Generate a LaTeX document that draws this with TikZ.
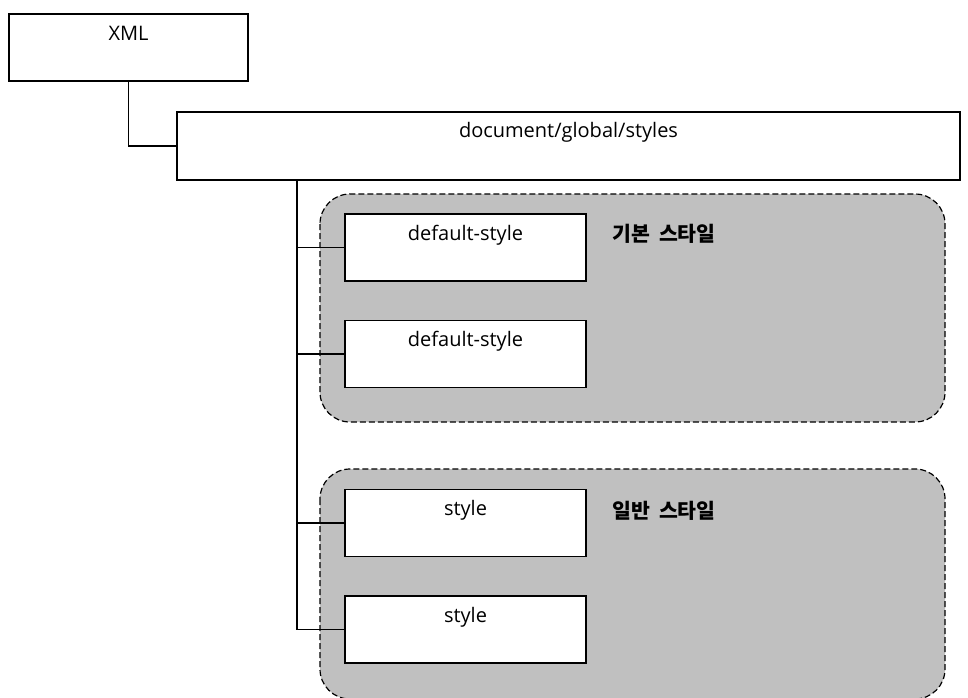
\documentclass[tikz,border=0pt]{standalone}
\usepackage{fontspec}
\setmainfont{Open Sans}
\newfontfamily\krfont{Noto Sans CJK KR}
\definecolor{groupfill}{HTML}{C0C0C0}
\begin{document}
\begin{tikzpicture}[x=1pt,y=-1pt,
  box/.style={draw=black, line width=1.4pt, fill=white, inner sep=0pt},
  txt/.style={anchor=base, inner sep=0pt, font=\fontsize{20}{24}\selectfont},
  grouplabel/.style={anchor=base, inner sep=0pt, font=\krfont\bfseries\fontsize{20.5}{24}\selectfont},
  group/.style={draw=black, line width=1.2pt, dash pattern=on 6pt off 3pt,
    fill=groupfill, rounded corners=30pt},
  link/.style={draw=black, line width=1.4pt}]
\useasboundingbox (0,0) rectangle (968,697);

% dashed grey groups behind the boxes
\draw[group] (320,194) rectangle (945,422);
\draw[group] (320,469) rectangle (945,699);

% tree boxes
\node[box, minimum width=239pt, minimum height=67pt] (xml) at (128.5,47.5) {};
\node[box, minimum width=783pt, minimum height=68pt] (doc) at (568.5,146) {};
\node[box, minimum width=241pt, minimum height=67pt] (b1) at (465.5,247.5) {};
\node[box, minimum width=241pt, minimum height=67pt] (b2) at (465.5,354) {};
\node[box, minimum width=241pt, minimum height=67pt] (b3) at (465.5,523) {};
\node[box, minimum width=241pt, minimum height=67pt] (b4) at (465.5,629.5) {};

% box captions, set near the top edge
\node[txt] (txml) at ([yshift=-27pt]xml.north) {XML};
\node[txt] (tdoc) at ([yshift=-26pt]doc.north) {document/global/styles};
\node[txt] (tb1) at ([yshift=-27pt]b1.north) {default-style};
\node[txt] (tb2) at ([yshift=-27pt]b2.north) {default-style};
\node[txt] (tb3) at ([yshift=-27pt]b3.north) {style};
\node[txt] (tb4) at ([yshift=-27pt]b4.north) {style};

% group titles
\node[grouplabel] (g1) at (664,241) {기본\hspace{9pt}스타일};
\node[grouplabel] (g2) at (664,518) {일반\hspace{9pt}스타일};

% connectors
\draw[link] (xml.south) |- (doc.west);
\coordinate (trunk) at (297,180);
\draw[link] (trunk) |- (b4.west);
\draw[link] (trunk |- b1.west) -- (b1.west);
\draw[link] (trunk |- b2.west) -- (b2.west);
\draw[link] (trunk |- b3.west) -- (b3.west);
\end{tikzpicture}
\end{document}
